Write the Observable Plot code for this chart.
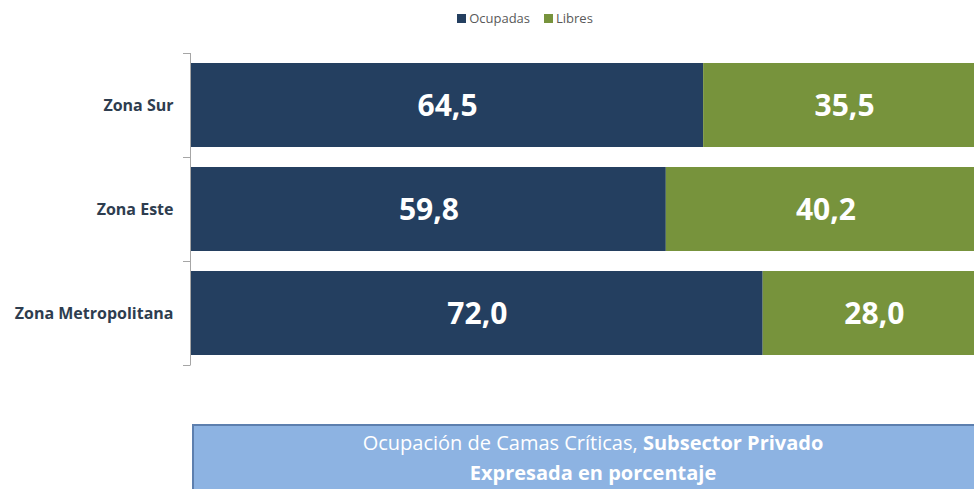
<!DOCTYPE html>
<html>
<head>
<meta charset="utf-8">
<script src="https://cdn.jsdelivr.net/npm/d3@7"></script>
<script src="https://cdn.jsdelivr.net/npm/@observablehq/plot@0.6"></script>
<style>
  html, body { margin: 0; padding: 0; background: #fff; overflow: hidden; }
  #wrap { position: relative; width: 974px; height: 489px; overflow: hidden; font-family: "Open Sans", sans-serif; }
  #legend { position: absolute; top: 9px; left: 0; width: 1050px; text-align: center; font-size: 13px; color: #595959; }
  #legend span.sw { display: inline-block; width: 9px; height: 9px; margin-right: 3px; vertical-align: 0px; }
  #legend span.item { margin: 0 7px; }
  #chart { position: absolute; top: 40px; left: 0; }
  #box { position: absolute; left: 192px; top: 424px; width: 800px; height: 80px; background: #8db3e2; border-top: 2px solid #5d7fae; border-left: 2px solid #5d7fae; box-sizing: border-box; color: #fff; text-align: center; font-size: 20px; line-height: 30px; padding-top: 2px; }
  #box b { font-weight: 700; }
</style>
</head>
<body>
<div id="wrap">
  <div id="legend"></div>
  <div id="chart"></div>
  <div id="box"><div id="l1"></div><div id="l2"></div></div>
</div>
<script>
const zones = ["Zona Sur", "Zona Este", "Zona Metropolitana"];
const series = ["Ocupadas", "Libres"];
const ocupadas = [64.5, 59.8, 72.0];
const libres = [35.5, 40.2, 28.0];
const colors = ["#243f60", "#77933c"];
const titleLight = "Ocupación de Camas Críticas, ";
const titleBold = "Subsector Privado";
const subtitle = "Expresada en porcentaje";

const data = [];
zones.forEach((z, i) => {
  data.push({zone: z, type: series[0], value: ocupadas[i]});
  data.push({zone: z, type: series[1], value: libres[i]});
});

const fmt = v => v.toFixed(1).replace(".", ",");

const plot = Plot.plot({
  width: 974,
  height: 370,
  marginTop: 12,
  marginBottom: 44,
  marginLeft: 191,
  marginRight: 0,
  style: {fontFamily: "Open Sans, sans-serif", background: "transparent", overflow: "hidden"},
  x: {domain: [0, 100], range: [191, 985], axis: null},
  y: {domain: zones, paddingInner: 0.19, paddingOuter: 0.095, label: null},
  color: {domain: series, range: colors},
  marks: [
    Plot.barX(data, Plot.stackX({x: "value", y: "zone", fill: "type", order: series})),
    Plot.text(data, Plot.stackX({x: "value", y: "zone", z: "type", order: series, text: d => fmt(d.value), fill: "white", fontSize: 30, fontWeight: 700, dy: 1})),
    Plot.axisY({tickSize: 0, tickPadding: 18, fontSize: 16, fontWeight: 700, fill: "#2e3d4f", label: null})
  ]
});
document.getElementById("chart").appendChild(plot);

// bracket-style category axis drawn from the y band scale
const ys = plot.scale("y");
const svg = d3.select(plot);
const gap = ys.step - ys.bandwidth;
const bounds = zones.map(z => ys.apply(z) - gap / 2);
bounds.push(ys.apply(zones[zones.length - 1]) + ys.bandwidth + gap / 2);
const g = svg.append("g").attr("stroke", "#a6a6a6").attr("stroke-width", 1).attr("fill", "none");
g.append("line").attr("x1", 190.5).attr("x2", 190.5).attr("y1", bounds[0]).attr("y2", bounds[bounds.length - 1]);
bounds.forEach(b => g.append("line").attr("x1", 183).attr("x2", 190.5).attr("y1", Math.round(b) + 0.5).attr("y2", Math.round(b) + 0.5));

// legend
const lg = d3.select("#legend");
series.forEach((s, i) => {
  const it = lg.append("span").attr("class", "item");
  it.append("span").attr("class", "sw").style("background", colors[i]);
  it.append("span").text(s);
});

d3.select("#l1").append("span").text(titleLight);
d3.select("#l1").append("b").text(titleBold);
d3.select("#l2").append("b").text(subtitle);
</script>
</body>
</html>
